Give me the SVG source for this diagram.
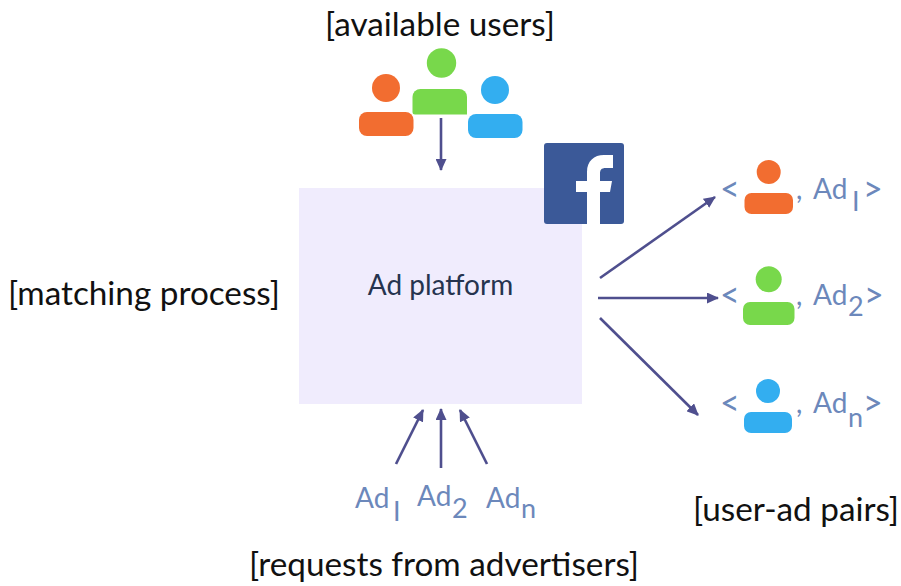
<svg xmlns="http://www.w3.org/2000/svg" width="901" height="586" viewBox="0 0 901 586">
<style>
text{font-family:"Lato","Noto Sans",sans-serif}
.cap{font-size:33.300px;fill:#111}
.ad{font-size:28px;fill:#6c88bb}
.sub{font-size:27px;fill:#6c88bb}
.chev{font-size:34px;fill:#6c88bb}
.or{fill:#f26d30}.gr{fill:#78d84b}.bl{fill:#33aef0}
.c line{stroke:#4f4f8e;stroke-width:2.600;marker-end:url(#a)}
</style>
<defs>
<marker id="a" viewBox="0 0 12 11" refX="11" refY="5.5" markerUnits="userSpaceOnUse" markerWidth="12" markerHeight="11" orient="auto"><path d="M0 0L12 5.5L0 11Z" fill="#4f4f8e"/></marker>
</defs>
<rect width="901" height="586" fill="#fff"/>
<g id="platform"><rect x="299" y="188" width="283" height="216" fill="#f0ecfd"/><text x="440.500" y="295" text-anchor="middle" font-size="28" style="fill:#26344f">Ad platform</text></g>
<g id="facebook"><rect x="544" y="143" width="80" height="81" rx="3" fill="#3b5998"/><path d="M587 224V192H576V181H587V172C587 161 594 155 604 155H613V168H606C601 168 600 170 600 174V181H612L610 192H600V224Z" fill="#fff"/></g>
<g id="users">
<g class="or"><circle cx="386" cy="88" r="14"/><rect x="359" y="112" width="54.500" height="24" rx="8"/></g>
<g class="bl"><circle cx="495" cy="90" r="14"/><rect x="468" y="114" width="54.500" height="24" rx="8"/></g>
<g class="gr"><circle cx="441.500" cy="63" r="14.700"/><path d="M412.500 97a8 8 0 0 1 8-8H459a8 8 0 0 1 8 8V114.500H415a2.500 2.500 0 0 1-2.500-2.500Z"/></g>
</g>
<g id="pair1"><text class="chev" x="720" y="200.500">&lt;</text><g class="or"><circle cx="768.700" cy="172" r="12"/><rect x="744.500" y="193" width="48.500" height="21" rx="7"/></g><text class="ad" x="796" y="199">,</text><text class="ad" x="813" y="199">Ad</text><text class="sub" x="852" y="211">I</text><text class="chev" x="863" y="200.500">&gt;</text></g>
<g id="pair2"><text class="chev" x="720" y="306.500">&lt;</text><g class="gr"><circle cx="768.700" cy="279.300" r="13"/><rect x="743" y="302" width="51.500" height="23" rx="7"/></g><text class="ad" x="796" y="305">,</text><text class="ad" x="813" y="305">Ad</text><text class="sub" x="848" y="316">2</text><text class="chev" x="864" y="306.500">&gt;</text></g>
<g id="pair3"><text class="chev" x="720" y="415">&lt;</text><g class="bl"><circle cx="768" cy="391" r="12"/><rect x="744" y="412" width="48" height="21" rx="7"/></g><text class="ad" x="796" y="413">,</text><text class="ad" x="813" y="413">Ad</text><text class="sub" x="848" y="427">n</text><text class="chev" x="863" y="415">&gt;</text></g>
<g id="ads">
<text class="ad" x="355" y="508">Ad</text><text class="sub" x="393" y="521">I</text>
<text class="ad" x="417" y="506">Ad</text><text class="sub" x="452" y="518">2</text>
<text class="ad" x="486" y="508">Ad</text><text class="sub" x="521" y="518">n</text>
</g>
<g class="c">
<line x1="441" y1="118" x2="441" y2="170"/>
<line x1="600" y1="278" x2="715" y2="197"/>
<line x1="598" y1="298" x2="718" y2="298"/>
<line x1="600" y1="318" x2="698" y2="415"/>
<line x1="396" y1="464" x2="423" y2="410"/>
<line x1="441" y1="468" x2="441" y2="409"/>
<line x1="487" y1="464" x2="460" y2="410"/>
</g>
<g id="captions">
<text class="cap" x="144" y="305" text-anchor="middle">[matching process]</text>
<text class="cap" x="440" y="36" text-anchor="middle">[available users]</text>
<text class="cap" x="796" y="521" text-anchor="middle">[user-ad pairs]</text>
<text class="cap" x="444" y="576" text-anchor="middle">[requests from advertisers]</text>
</g>
</svg>
